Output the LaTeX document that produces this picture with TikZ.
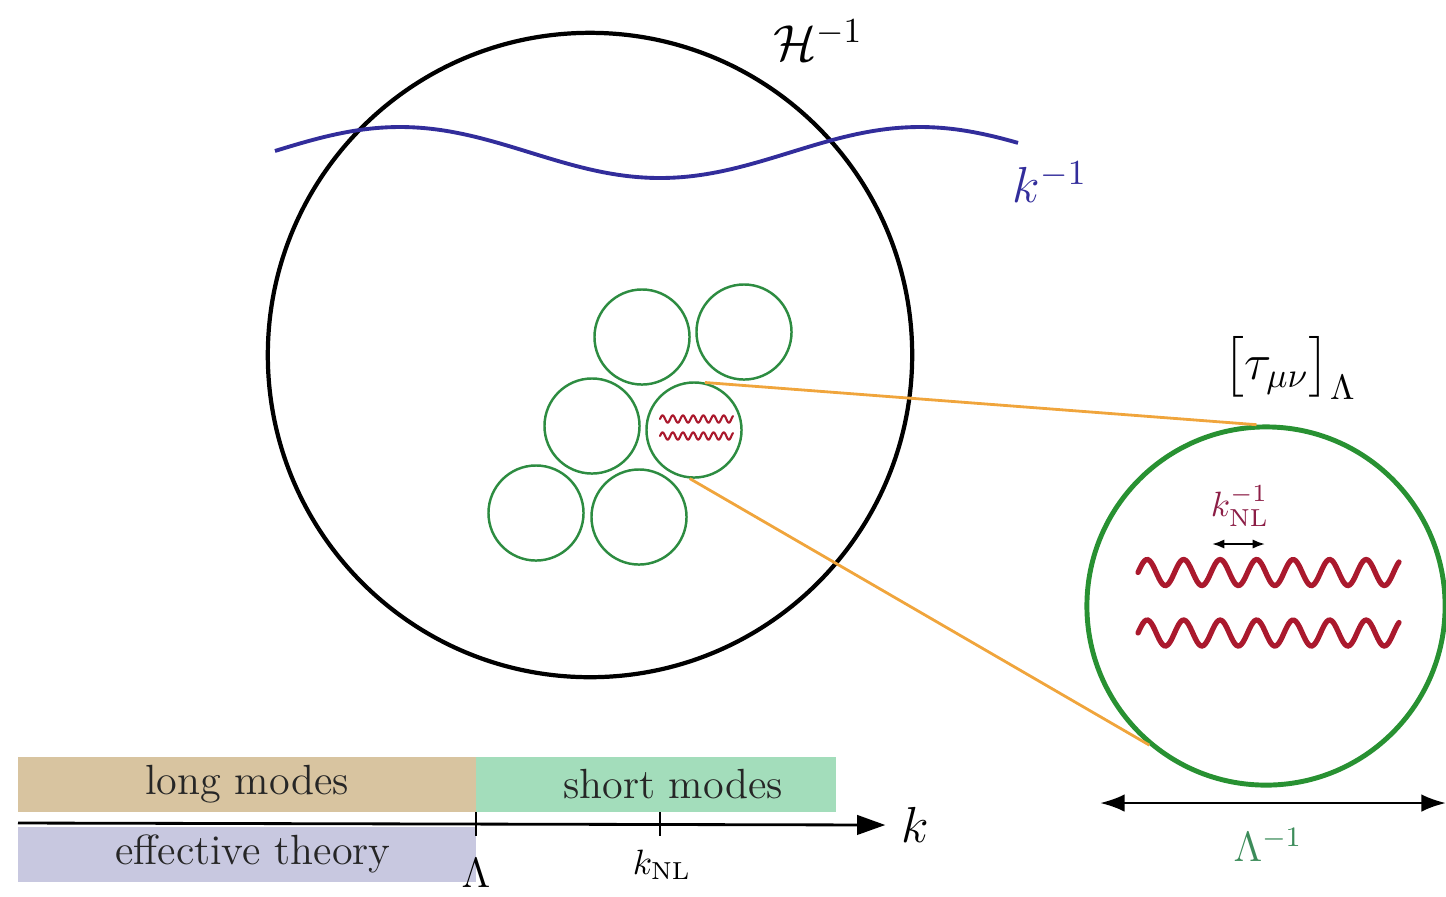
\documentclass[tikz,border=0pt]{standalone}
\usepackage{amsmath,amssymb}
\usetikzlibrary{arrows.meta,positioning,calc}

\definecolor{modeblue}{RGB}{50,45,155}
\definecolor{cellgreen}{RGB}{45,140,65}
\definecolor{zoomgreen}{RGB}{40,145,50}
\definecolor{wavered}{RGB}{170,25,45}
\definecolor{nlred}{RGB}{140,30,70}
\definecolor{zoomorange}{RGB}{240,165,60}
\definecolor{cutgreen}{RGB}{60,140,90}
\definecolor{longtan}{RGB}{216,196,160}
\definecolor{shortgreen}{RGB}{163,221,187}
\definecolor{efflav}{RGB}{200,200,224}

\begin{document}
\begin{tikzpicture}[x=0.01cm, y=-0.01cm,
  ring/.style={circle, draw=cellgreen, line width=0.7pt, inner sep=0pt, minimum size=0.95cm},
  bar/.style={rectangle, inner sep=0pt, minimum height=0.55cm, font=\large},
  wave/.style={wavered, line width=1.5pt, line cap=round}]
  \useasboundingbox (0,0) rectangle (1446,896);

  % horizon and the long mode
  \node[circle, draw, line width=1.2pt, inner sep=0pt, minimum size=6.44cm] (horizon) at (590,355) {};
  \node[font=\Large] (hubble) at (818,40) {$\mathcal{H}^{-1}$};
  \draw[modeblue, line width=1.1pt] plot[domain=275:1018, samples=120] (\x, {152.5-25.5*cos(0.6923*(\x-400))});
  \node[font=\Large, text=modeblue] (klong) at (1050,182) {$k^{-1}$};

  % cells of size Lambda^-1
  \node[ring] (c1) at (642,337) {};
  \node[ring] (c2) at (744,332) {};
  \node[ring] (c3) at (592,426) {};
  \node[ring] (c4) at (694,430) {};
  \node[ring] (c5) at (536,513) {};
  \node[ring] (c6) at (639,517) {};
  \foreach \yc in {419,436}
    \draw[wave, line width=0.6pt] plot[domain=0:7.15, samples=140] ({660+10.2*\x}, {\yc-3.6*sin(360*\x)});

  % zoom on one cell
  \node[circle, draw=zoomgreen, line width=1.4pt, inner sep=0pt, minimum size=3.58cm] (zoom) at (1266,606) {};
  \draw[zoomorange, line width=0.8pt] (c4.77) -- (zoom.93);
  \draw[zoomorange, line width=0.8pt] (c4.265) -- (zoom.230);
  \node[font=\Large] (tau) at (1290,368) {$\big[\tau_{\mu\nu}\big]_\Lambda$};
  \foreach \yc in {572.5,633}
    \draw[wave] plot[domain=0:7.15, samples=160] ({1138+36.5*\x}, {\yc-13*sin(360*\x)});
  \node[text=nlred] (knl) at (1240,506) {$k_{\rm NL}^{-1}$};
  \coordinate (knlL) at (1212,544);
  \coordinate (knlR) at (1265,544);
  \draw[{Latex[length=3.5pt]}-{Latex[length=3.5pt]}, line width=0.6pt] (knlL) -- (knlR);
  \coordinate (sizeL) at (1100,803);
  \coordinate (sizeR) at (1446,803);
  \draw[{Latex[length=7pt,width=5pt]}-{Latex[length=7pt,width=5pt]}, line width=0.8pt] (sizeL) -- (sizeR);
  \node[font=\large, text=cutgreen] (cutoff) at (1268,845) {$\Lambda^{-1}$};

  % k axis
  \node[bar, fill=longtan, minimum width=4.58cm, text=black!85] (long) at (247,784.5) {long modes};
  \node[bar, fill=shortgreen, minimum width=3.60cm, text=black!85] (short) at (656,784.5) {\hspace*{0.34cm}short modes};
  \node[bar, fill=efflav, minimum width=4.58cm, text=black!85] (eft) at (247,854) {\hspace*{0.12cm}effective theory};
  \coordinate (axisL) at (18,823);
  \node[font=\Large] (kaxis) at (915,825) {$k$};
  \draw[-{Triangle[length=8pt,width=5.5pt]}, line width=0.8pt] (axisL) -- ([xshift=-1pt]kaxis.west);
  \draw[line width=0.7pt] (476,812) -- (476,836);
  \draw[line width=0.7pt] (660,812) -- (660,836);
  \node (knlaxis) at (662,865) {$k_{\rm NL}$};
  \node[font=\large, inner sep=0pt, anchor=north] (lambda) at (476,858) {$\Lambda$};
\end{tikzpicture}
\end{document}
